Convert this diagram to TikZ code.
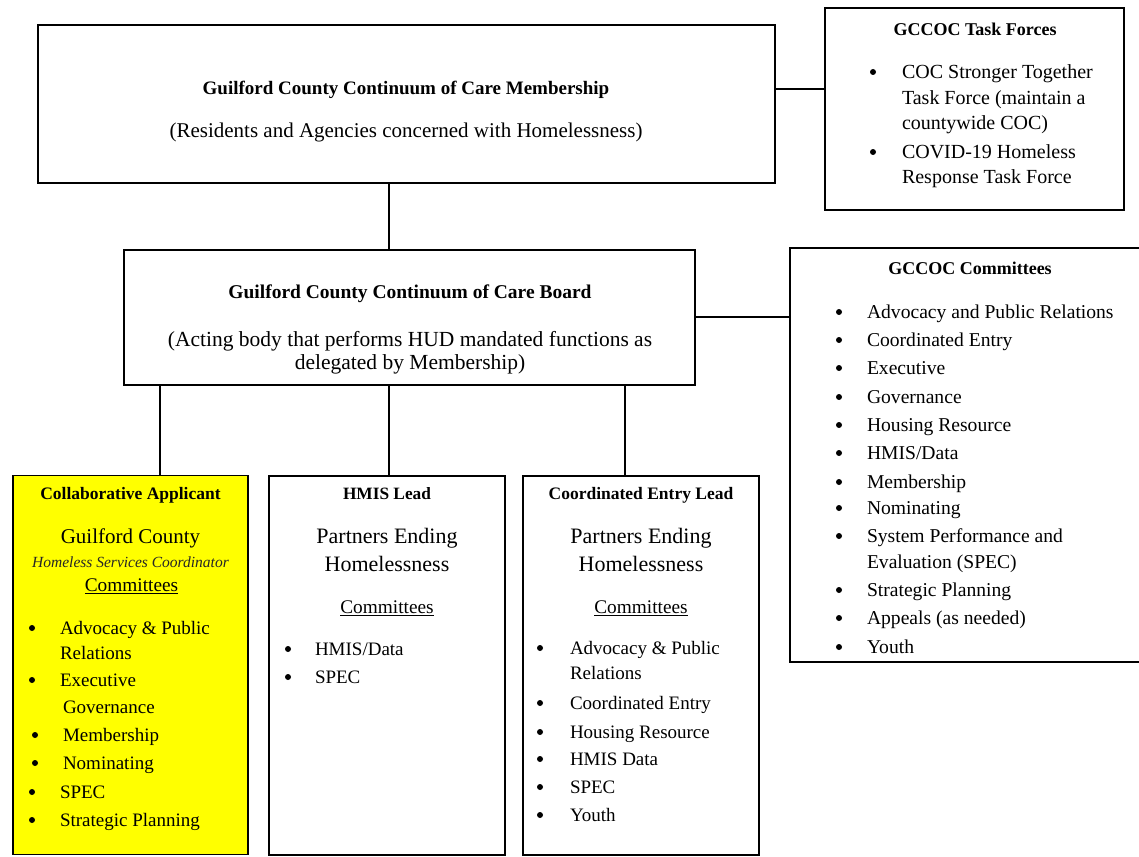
\documentclass[tikz,border=0pt]{standalone}
\usepackage{fontspec}
\setmainfont{Liberation Serif}
\definecolor{caYellow}{RGB}{255,255,0}
\tikzset{
  box/.style={draw=black, line width=1.6pt, rectangle, inner sep=0pt, outer sep=0pt},
  link/.style={draw=black, line width=1.8pt},
  txt/.style={inner sep=0pt, outer sep=0pt, text height=0.68em, text depth=0.2em, yshift=-4pt},
  ltxt/.style={txt, anchor=west},
  dot/.style={circle, fill=black, inner sep=0pt, minimum size=6pt},
}
\newcommand{\sz}[1]{\fontsize{#1}{#1}\selectfont}
\begin{document}
\begin{tikzpicture}[x=1pt,y=-1pt]
\useasboundingbox (0,0) rectangle (1139,856);
\fill[white] (0,0) rectangle (1139,856);
% boxes
\node[box, minimum width=737pt, minimum height=158pt] (mem) at (406.5,104) {};
\node[box, minimum width=299pt, minimum height=202pt] (tf) at (974.5,109) {};
\node[box, minimum width=571pt, minimum height=135pt] (board) at (409.5,317.5) {};
\node[box, minimum width=360pt, minimum height=414pt] (com) at (970,455) {};
\node[box, fill=caYellow, minimum width=235pt, minimum height=379pt] (ca) at (130.5,665) {};
\node[box, minimum width=236pt, minimum height=379pt] (hmis) at (387,665.5) {};
\node[box, minimum width=236pt, minimum height=379pt] (ce) at (641,665.5) {};
% connectors
\coordinate (ytf) at (0,89);
\coordinate (ycom) at (0,317);
\coordinate (xmb) at (389,0);
\coordinate (xca) at (160,0);
\coordinate (xce) at (625,0);
\draw[link] (mem.east |- ytf) -- (tf.west |- ytf);
\draw[link] (mem.south -| xmb) -- (board.north -| xmb);
\draw[link] (board.east |- ycom) -- (com.west |- ycom);
\draw[link] (board.south -| xca) -- (ca.north -| xca);
\draw[link] (board.south -| xmb) -- (hmis.north -| xmb);
\draw[link] (board.south -| xce) -- (ce.north -| xce);
% membership text
\node[txt, font=\sz{19}\bfseries] (memT) at (406,88) {Guilford County Continuum of Care Membership};
\node[txt, font=\sz{21}] (memS) at (406,131) {(Residents and Agencies concerned with Homelessness)};
% task forces
\node[txt, font=\sz{18}\bfseries] (tfT) at (975,29) {GCCOC Task Forces};
\foreach \n/\y in {1/72,2/152}
  \node[dot] (tfb\n) at (873,\y) {};
\foreach \n/\y/\t in {1/72/{COC Stronger Together},2/98/{Task Force (maintain a},3/123/{countywide COC)},4/152/{COVID-19 Homeless},5/177/{Response Task Force}}
  \node[ltxt, font=\sz{20}] (tfl\n) at (902,\y) {\t};
% board text
\node[txt, font=\sz{19.5}\bfseries] (boT) at (410,292) {Guilford County Continuum of Care Board};
\node[txt, font=\sz{21.5}] (boS1) at (410,340) {(Acting body that performs HUD mandated functions as};
\node[txt, font=\sz{21.5}] (boS2) at (410,363) {delegated by Membership)};
% committees
\node[txt, font=\sz{18}\bfseries] (coT) at (970,268) {GCCOC Committees};
\foreach \n/\y in {1/312,2/340,3/368,4/397,5/425,6/453,7/482,8/508,9/536,10/590,11/618,12/647}
  \node[dot] (cob\n) at (839,\y) {};
\foreach \n/\y/\t in {1/312/{Advocacy and Public Relations},2/340/{Coordinated Entry},3/368/{Executive},4/397/{Governance},5/425/{Housing Resource},6/453/{HMIS/Data},7/482/{Membership},8/508/{Nominating},9/536/{System Performance and},10/562/{Evaluation (SPEC)},11/590/{Strategic Planning},12/618/{Appeals (as needed)},13/647/{Youth}}
  \node[ltxt, font=\sz{19.6}] (col\n) at (867,\y) {\t};
% collaborative applicant
\node[txt, font=\sz{17.5}\bfseries] (caT) at (130.5,493) {Collaborative Applicant};
\node[txt, font=\sz{21}] (caN) at (130.5,537) {Guilford County};
\node[txt, font=\sz{15.5}\itshape, text=black!85] (caR) at (130.5,561) {Homeless Services Coordinator};
\node[txt, font=\sz{19.3}] (caC) at (131.5,585) {\underline{Committees}};
\foreach \n/\x/\y in {1/32/628,2/32/680,3/35/735,4/35/763,5/32/792,6/32/820}
  \node[dot] (cab\n) at (\x,\y) {};
\foreach \n/\x/\y/\t in {1/60/628/{Advocacy \& Public},2/60/653/{Relations},3/60/680/{Executive},4/63/707/{Governance},5/63/735/{Membership},6/63/763/{Nominating},7/60/792/{SPEC},8/60/820/{Strategic Planning}}
  \node[ltxt, font=\sz{19}] (cal\n) at (\x,\y) {\t};
% HMIS lead
\node[txt, font=\sz{17.3}\bfseries] (hmT) at (387,493) {HMIS Lead};
\node[txt, font=\sz{22}] (hmN1) at (387,537) {Partners Ending};
\node[txt, font=\sz{22}] (hmN2) at (387,565) {Homelessness};
\node[txt, font=\sz{19.3}] (hmC) at (387,607) {\underline{Committees}};
\foreach \n/\y/\t in {1/649/{HMIS/Data},2/677/{SPEC}}{
  \node[dot] (hmb\n) at (288,\y) {};
  \node[ltxt, font=\sz{19}] (hml\n) at (315,\y) {\t};
}
% Coordinated entry lead
\node[txt, font=\sz{17.5}\bfseries] (ceT) at (641,493) {Coordinated Entry Lead};
\node[txt, font=\sz{22}] (ceN1) at (641,537) {Partners Ending};
\node[txt, font=\sz{22}] (ceN2) at (641,565) {Homelessness};
\node[txt, font=\sz{19.3}] (ceC) at (641,607) {\underline{Committees}};
\foreach \n/\y in {1/648,2/703,3/732,4/759,5/787,6/815}
  \node[dot] (ceb\n) at (540,\y) {};
\foreach \n/\y/\t in {1/648/{Advocacy \& Public},2/673/{Relations},3/703/{Coordinated Entry},4/732/{Housing Resource},5/759/{HMIS Data},6/787/{SPEC},7/815/{Youth}}
  \node[ltxt, font=\sz{19}] (cel\n) at (570,\y) {\t};
\end{tikzpicture}
\end{document}
